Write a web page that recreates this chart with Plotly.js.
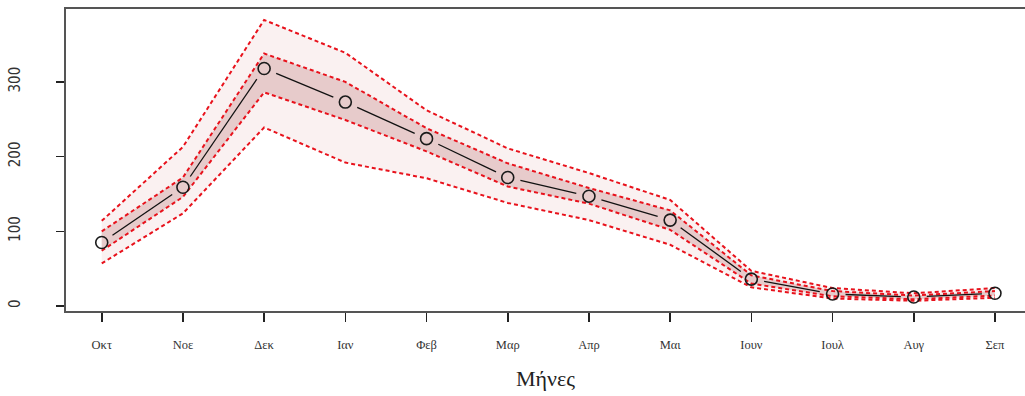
<!DOCTYPE html>
<html>
<head>
<meta charset="utf-8">
<script src="https://cdn.plot.ly/plotly-3.0.1.min.js"></script>
<style>
  html, body { margin: 0; padding: 0; background: #fff; }
  #chart { width: 1025px; height: 396px; }
</style>
</head>
<body>
<div id="chart"></div>
<script>
// Monthly values (hydrological year, October to September)
const months = ["Οκτ", "Νοε", "Δεκ", "Ιαν", "Φεβ", "Μαρ", "Απρ", "Μαι", "Ιουν", "Ιουλ", "Αυγ", "Σεπ"];
const meanValues = [85, 159, 318, 273, 224, 172, 147, 115, 36, 16, 12, 17];
const innerUpper = [100, 172, 338, 300, 238, 191, 158, 128, 41, 20, 14, 20];
const innerLower = [74, 146, 286, 249, 207, 160, 137, 102, 30, 13, 9, 14];
const outerUpper = [114, 213, 383, 339, 262, 211, 178, 142, 47, 24, 17, 24];
const outerLower = [57, 124, 239, 192, 171, 138, 115, 82, 25, 10, 7, 11];
const yTicks = [0, 100, 200, 300];

const xPos = months.map((_, i) => i + 1);

const W = 1025, H = 396;
const margin = { l: 66, r: 0, t: 9, b: 85 };
const xRange = [0.56, 12.37];
const yRange = [-6.7, 397.6];

const red = "rgb(232,18,28)";
const dotted = "4px,3px";

// Line segments between markers, trimmed so the line stops short of each circle
const pxPerX = (W - margin.l - margin.r) / (xRange[1] - xRange[0]);
const pxPerY = (H - margin.t - margin.b) / (yRange[1] - yRange[0]);
const gap = 13;
const segX = [], segY = [];
for (let i = 0; i < xPos.length - 1; i++) {
  const dx = (xPos[i + 1] - xPos[i]) * pxPerX;
  const dy = (meanValues[i + 1] - meanValues[i]) * pxPerY;
  const len = Math.sqrt(dx * dx + dy * dy);
  const f = gap / len;
  if (f >= 0.5) continue;
  segX.push(xPos[i] + f * (xPos[i + 1] - xPos[i]), xPos[i + 1] - f * (xPos[i + 1] - xPos[i]), null);
  segY.push(meanValues[i] + f * (meanValues[i + 1] - meanValues[i]), meanValues[i + 1] - f * (meanValues[i + 1] - meanValues[i]), null);
}

const traces = [
  { x: xPos, y: outerLower, mode: "lines", line: { width: 0 }, hoverinfo: "skip", showlegend: false },
  { x: xPos, y: outerUpper, mode: "lines", line: { width: 0 }, fill: "tonexty",
    fillcolor: "rgb(250,241,241)", hoverinfo: "skip", showlegend: false },
  { x: xPos, y: innerLower, mode: "lines", line: { width: 0 }, hoverinfo: "skip", showlegend: false },
  { x: xPos, y: innerUpper, mode: "lines", line: { width: 0 }, fill: "tonexty",
    fillcolor: "rgb(231,203,203)", hoverinfo: "skip", showlegend: false },
  { x: xPos, y: outerUpper, mode: "lines", line: { color: red, width: 2, dash: dotted }, showlegend: false },
  { x: xPos, y: innerUpper, mode: "lines", line: { color: red, width: 2, dash: dotted }, showlegend: false },
  { x: xPos, y: innerLower, mode: "lines", line: { color: red, width: 2, dash: dotted }, showlegend: false },
  { x: xPos, y: outerLower, mode: "lines", line: { color: red, width: 2, dash: dotted }, showlegend: false },
  { x: segX, y: segY, mode: "lines", line: { color: "#111", width: 1.3 }, hoverinfo: "skip", showlegend: false, connectgaps: false },
  { x: xPos, y: meanValues, mode: "markers", showlegend: false,
    marker: { symbol: "circle-open", size: 12, color: "#1a1a1a", line: { width: 1.6, color: "#1a1a1a" } } }
];

const layout = {
  width: W, height: H,
  margin: margin,
  paper_bgcolor: "#fff", plot_bgcolor: "#fff",
  showlegend: false,
  xaxis: {
    range: xRange,
    tickvals: xPos, ticktext: months,
    ticks: "outside", ticklen: 9, tickwidth: 1.6, tickcolor: "#222",
    showline: true, mirror: true, linecolor: "#555", linewidth: 1.6,
    showgrid: false, zeroline: false,
    tickfont: { family: "Liberation Serif, DejaVu Serif, serif", size: 12.5, color: "#333" },
    ticklabelstandoff: 12,
    title: { text: "Μήνες", standoff: 20,
             font: { family: "Liberation Serif, DejaVu Serif, serif", size: 22, color: "#222" } }
  },
  yaxis: {
    range: yRange,
    tickvals: yTicks,
    ticks: "outside", ticklen: 8, tickwidth: 1.6, tickcolor: "#222",
    showline: true, linecolor: "#555", linewidth: 1.6,
    showgrid: false, zeroline: false,
    tickangle: -90,
    tickfont: { family: "Liberation Sans Narrow, DejaVu Sans Condensed, sans-serif", size: 15, color: "#333" },
    ticklabelstandoff: 30
  }
};

Plotly.newPlot("chart", traces, layout, { staticPlot: true, displayModeBar: false });
</script>
</body>
</html>
